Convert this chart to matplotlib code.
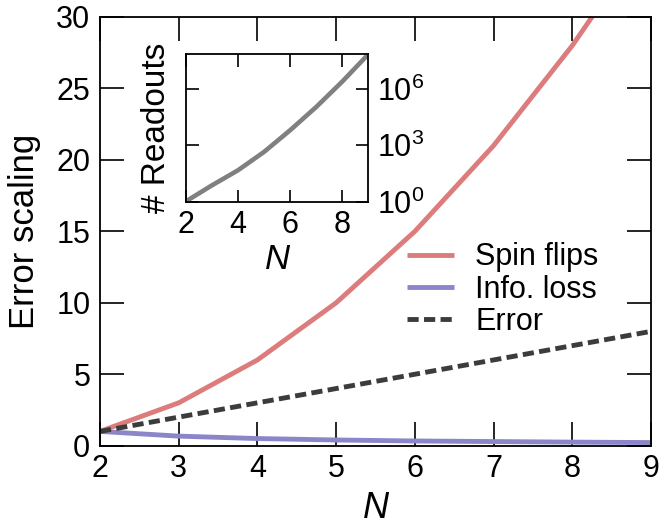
import matplotlib
matplotlib.use("Agg")
import matplotlib.pyplot as plt
from matplotlib.ticker import FixedLocator, NullLocator, LogFormatterSciNotation

plt.rcParams['font.family'] = ['Liberation Sans', 'DejaVu Sans']
plt.rcParams['mathtext.fontset'] = 'custom'
plt.rcParams['mathtext.rm'] = 'Liberation Sans'
plt.rcParams['mathtext.it'] = 'Liberation Sans:italic'

N = [2, 3, 4, 5, 6, 7, 8, 9]
spin_flips = [1, 3, 6, 10, 15, 21, 28, 36]
info_loss = [1, 0.67, 0.5, 0.4, 0.33, 0.29, 0.25, 0.22]
error = [1, 2, 3, 4, 5, 6, 7, 8]
readouts = [1, 7.2, 46, 440, 6300, 1.1e5, 2.5e6, 7.2e7]

red = '#dc7c7c'
purple = '#8b86c9'
dark = '#3c3c3c'
gray = '#808080'

W, H = 660, 529
fig = plt.figure(figsize=(6.6, 5.29), dpi=100)
ax = fig.add_axes([100/W, 1-445.7/H, 551/W, 428.7/H])
ax.plot(N, spin_flips, color=red, lw=3.5, label='Spin flips', solid_capstyle='butt')
ax.plot(N, info_loss, color=purple, lw=3.5, label='Info. loss', solid_capstyle='butt')
ax.plot(N, error, color=dark, lw=3.5, ls=(0, (2.3, 1.1)), label='Error')
ax.set_xlim(2, 9)
ax.set_ylim(0, 30)
ax.set_xticks(N)
ax.set_yticks([0, 5, 10, 15, 20, 25, 30])
ax.tick_params(direction='in', length=17, width=1.2, labelsize=22, top=True, right=True)
ax.tick_params(axis='x', pad=6)
ax.tick_params(axis='y', pad=7)
for s in ax.spines.values():
    s.set_linewidth(1.3)
ax.set_xlabel('N', fontsize=26, style='italic', labelpad=5)
ax.set_ylabel('Error scaling', fontsize=25, labelpad=11)
leg = ax.legend(loc='upper left', bbox_to_anchor=(0.535, 0.503), frameon=False, fontsize=22,
                handlelength=1.55, handletextpad=0.68, labelspacing=0.08, borderaxespad=0)

ins = fig.add_axes([185.7/W, 1-201.5/H, 182.6/W, 147.2/H])
ins.semilogy(N, readouts, color=gray, lw=3.3)
ins.set_xlim(2, 9)
ins.set_ylim(1, readouts[-1])
ins.set_xticks([2, 4, 6, 8])
ins.yaxis.set_major_locator(FixedLocator([1, 1e3, 1e6]))
ins.yaxis.set_minor_locator(NullLocator())
ins.yaxis.set_major_formatter(LogFormatterSciNotation())
ins.tick_params(direction='in', length=9, width=1.2, labelsize=22, top=True, right=True,
                labelleft=False, labelright=True, pad=6)
for s in ins.spines.values():
    s.set_linewidth(1.3)
ins.set_xlabel('N', fontsize=25, style='italic', labelpad=2)
ins.set_ylabel('# Readouts', fontsize=24, labelpad=10)

fig.savefig('out.png', dpi=100)
